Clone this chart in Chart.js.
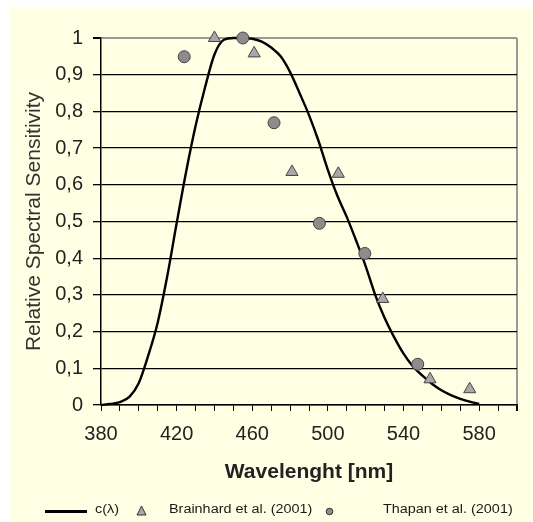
<!DOCTYPE html>
<html>
<head>
<meta charset="utf-8">
<script src="https://cdn.jsdelivr.net/npm/chart.js@4"></script>
<style>
  html, body { margin: 0; padding: 0; background: #fff; }
  #wrap { position: relative; width: 533px; height: 522px; overflow: hidden; }
  #panel { position: absolute; left: 10px; top: 7px; right: 0; bottom: 0; background: #ffffe4; }
  #chart { position: absolute; left: 0; top: 0; }
  .lg { position: absolute; top: 502px; font: 12px "Liberation Sans", Arial, sans-serif; color: #1a1a1a;
        transform: scaleX(1.2); transform-origin: left center; white-space: nowrap; }
  .lgline { position: absolute; left: 45px; top: 510px; width: 42px; height: 3px; background: #000; }
  .lgmark { position: absolute; }
</style>
</head>
<body>
<div id="wrap">
  <div id="panel"></div>
  <canvas id="chart" width="533" height="522"></canvas>
  <div class="lgline"></div>
  <span class="lg" style="left:95px">c(λ)</span>
  <svg class="lgmark" style="left:136px;top:505px" width="11" height="11">
    <polygon points="5.5,1 10,10 1,10" fill="#a8a8a8" stroke="#333" stroke-width="1"/>
  </svg>
  <span class="lg" style="left:169px">Brainhard et al. (2001)</span>
  <svg class="lgmark" style="left:325px;top:507px" width="9" height="9">
    <circle cx="4.5" cy="4.5" r="3.3" fill="#8c8c8c" stroke="#333" stroke-width="1"/>
  </svg>
  <span class="lg" style="left:383px">Thapan et al. (2001)</span>
</div>
<script>
// Spectral sensitivity data

const wavelengths = [380, 385, 390, 395, 400, 405, 410, 415, 420, 425, 430, 435, 440, 445, 450,
                     455, 460, 465, 470, 475, 480, 485, 490, 495, 500, 505, 510, 515, 520, 525,
                     530, 535, 540, 545, 550, 555, 560, 565, 570, 575, 580];
const cLambda = [0.000, 0.003, 0.008, 0.022, 0.060, 0.135, 0.225, 0.350, 0.495, 0.635, 0.760,
                 0.865, 0.955, 0.995, 1.000, 1.000, 0.998, 0.990, 0.974, 0.950, 0.907, 0.850,
                 0.790, 0.720, 0.640, 0.570, 0.512, 0.447, 0.378, 0.300, 0.237, 0.185, 0.140,
                 0.105, 0.080, 0.058, 0.040, 0.027, 0.017, 0.009, 0.003];

const brainhardX = [440, 461, 481, 505.5, 529, 554, 575];
const brainhardY = [1.0, 0.958, 0.635, 0.63, 0.289, 0.07, 0.043];

const thapanX = [424, 455, 471.5, 495.5, 519.5, 547.5];
const thapanY = [0.949, 1.0, 0.769, 0.495, 0.413, 0.111];

const xLabels = [380, 420, 460, 500, 540, 580];

function toPoints(xs, ys) {
    return xs.map((x, i) => ({ x: x, y: ys[i] }));
}

const tickFont = { family: '"Liberation Sans", Arial, sans-serif', size: 20 };

new Chart(document.getElementById('chart'), {
    type: 'scatter',
    data: {
        datasets: [
            {
                type: 'line',
                label: 'c(λ)',
                data: toPoints(wavelengths, cLambda),
                borderColor: '#000',
                borderWidth: 2.4,
                pointRadius: 0,
                cubicInterpolationMode: 'monotone',
                fill: false,
                clip: false,
                order: 3
            },
            {
                label: 'Brainhard et al. (2001)',
                data: toPoints(brainhardX, brainhardY),
                pointStyle: 'triangle',
                pointRadius: 7,
                backgroundColor: '#a8a8a8',
                borderColor: '#444',
                borderWidth: 1,
                clip: false,
                order: 1
            },
            {
                label: 'Thapan et al. (2001)',
                data: toPoints(thapanX, thapanY),
                pointStyle: 'circle',
                pointRadius: 6,
                backgroundColor: '#8c8c8c',
                borderColor: '#444',
                borderWidth: 1,
                clip: false,
                order: 0
            }
        ]
    },
    options: {
        responsive: false,
        animation: false,
        devicePixelRatio: 1,
        layout: { padding: { left: 0, top: 38, right: 16, bottom: 0 } },
        plugins: {
            legend: { display: false },
            tooltip: { enabled: false }
        },
        scales: {
            x: {
                type: 'linear',
                min: 380,
                max: 600,
                afterFit: (scale) => { scale.height = 117; },
                ticks: {
                    stepSize: 10,
                    autoSkip: false,
                    maxRotation: 0,
                    padding: 11,
                    color: '#222',
                    font: tickFont,
                    callback: (v) => xLabels.includes(v) ? String(v) : ''
                },
                grid: {
                    color: (ctx) => ctx.tick && ctx.tick.value === 600 ? '#9a9a9a' : 'rgba(0,0,0,0)',
                    lineWidth: (ctx) => ctx.tick && ctx.tick.value === 600 ? 2 : 1,
                    tickColor: '#000',
                    tickLength: 6
                },
                border: { color: '#000', width: 1.5 },
                title: {
                    display: true,
                    text: 'Wavelenght [nm]',
                    color: '#222',
                    font: { family: '"Liberation Sans", Arial, sans-serif', size: 21, weight: 'bold' },
                    padding: { top: 0, bottom: 37 }
                }
            },
            y: {
                min: 0,
                max: 1,
                afterFit: (scale) => { scale.width = 101; },
                ticks: {
                    stepSize: 0.1,
                    padding: 10,
                    color: '#222',
                    font: tickFont,
                    callback: (v) => String(Math.round(v * 10) / 10).replace('.', ',')
                },
                grid: {
                    color: (ctx) => ctx.tick && ctx.tick.value === 1 ? '#9a9a9a' : '#000',
                    lineWidth: (ctx) => ctx.tick && ctx.tick.value === 1 ? 2 : 1.3,
                    tickColor: '#000',
                    tickLength: 8
                },
                border: { color: '#000', width: 1.5 },
                title: {
                    display: true,
                    text: 'Relative Spectral Sensitivity',
                    color: '#333',
                    font: { family: '"Liberation Sans", Arial, sans-serif', size: 21 },
                    padding: { top: 22, bottom: 0 }
                }
            }
        }
    }
});
</script>
</body>
</html>
